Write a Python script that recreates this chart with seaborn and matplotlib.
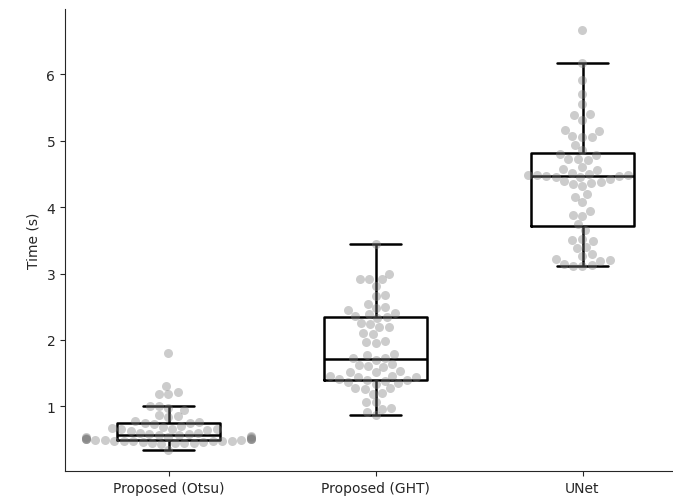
import seaborn as sns
import matplotlib.pyplot as plt
import pandas as pd

methods = ["Proposed (Otsu)", "Proposed (GHT)", "UNet"]

otsu_times = [0.34,
              0.43, 0.44, 0.44, 0.45, 0.45, 0.46, 0.46, 0.47, 0.47, 0.47,
              0.48, 0.48, 0.48, 0.49, 0.49, 0.49, 0.50, 0.50, 0.50, 0.51,
              0.51, 0.51, 0.52, 0.52, 0.53, 0.53, 0.54, 0.55,
              0.56, 0.56,
              0.58, 0.58, 0.59, 0.60, 0.62, 0.64, 0.65, 0.66, 0.66, 0.67,
              0.68, 0.70, 0.73, 0.75,
              0.75, 0.76, 0.77, 0.83, 0.85, 0.86, 0.95, 0.97, 1.00, 1.01,
              1.18, 1.19, 1.21, 1.31, 1.80]

ght_times = [0.86, 0.91, 0.96, 0.97, 1.06, 1.07, 1.19, 1.20, 1.26, 1.27,
             1.28, 1.34, 1.35, 1.36, 1.38,
             1.40, 1.40, 1.41, 1.44, 1.44, 1.45, 1.46, 1.51, 1.52, 1.53,
             1.59, 1.60, 1.62, 1.63, 1.70,
             1.72, 1.73, 1.77, 1.78, 1.96, 1.97, 1.98, 2.09, 2.10, 2.19,
             2.20, 2.24, 2.25, 2.33, 2.34,
             2.36, 2.39, 2.40, 2.45, 2.48, 2.49, 2.54, 2.66, 2.67, 2.81,
             2.91, 2.91, 2.92, 3.00, 3.45]

unet_times = [3.11, 3.12, 3.13, 3.15, 3.19, 3.20, 3.22, 3.27, 3.29, 3.38,
              3.40, 3.49, 3.50, 3.52, 3.65,
              3.74, 3.86, 3.88, 3.94, 4.08, 4.16, 4.20, 4.32, 4.35, 4.37,
              4.38, 4.40, 4.42, 4.45, 4.46,
              4.47, 4.47, 4.48, 4.48, 4.49, 4.50, 4.52, 4.56, 4.57, 4.60,
              4.71, 4.72, 4.73, 4.78, 4.80,
              4.86, 4.94, 5.05, 5.06, 5.07, 5.15, 5.16, 5.32, 5.39, 5.41,
              5.56, 5.71, 5.92, 6.17, 6.67]

df = pd.DataFrame({
    "method": [methods[0]] * len(otsu_times) + [methods[1]] * len(ght_times)
              + [methods[2]] * len(unet_times),
    "time": otsu_times + ght_times + unet_times,
})

sns.set_style("ticks")

fig = plt.figure(figsize=(6.73, 5.02), dpi=100)
ax = fig.add_axes([65 / 673, 30 / 502, 621 / 673, 462 / 502])

# points first, boxes drawn on top without fill
sns.swarmplot(data=df, x="method", y="time", order=methods, color="gray",
              alpha=0.4, size=6.5, ax=ax)
sns.boxplot(data=df, x="method", y="time", order=methods, fill=False,
            color="black", width=0.5, showfliers=False, linewidth=1.8, ax=ax)

ax.set_xlabel("")
ax.set_ylabel("Time (s)")
sns.despine(ax=ax)

fig.savefig("out.png", dpi=100)
